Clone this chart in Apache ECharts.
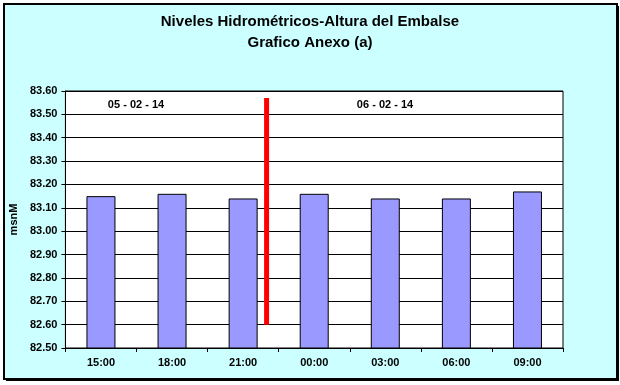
<!DOCTYPE html>
<html><head><meta charset="utf-8">
<script src="https://cdn.jsdelivr.net/npm/echarts@6/dist/echarts.min.js"></script>
<style>html,body{margin:0;padding:0;background:#fff}#c{width:620px;height:385px}</style>
</head><body><div id="c"></div>
<script>
var categories = ['15:00','18:00','21:00','00:00','03:00','06:00','09:00'];
var levels = [83.15, 83.16, 83.14, 83.16, 83.14, 83.14, 83.17];
var yTicks = [82.5, 83.6, 0.1];
var dayLabels = ['05 - 02 - 14', '06 - 02 - 14'];
var dividerX = 2.33;
var dividerY = [82.60, 83.57];

var chart = echarts.init(document.getElementById('c'));
var font = 'Liberation Sans, Arial, sans-serif';
chart.setOption({
  backgroundColor: '#ffffff',
  animation: false,
  graphic: [
    {type:'rect', z:-10, shape:{x:4,y:4,width:613,height:375}, style:{fill:'#CCFFFF', stroke:'#000', lineWidth:2}},
    {type:'rect', z:-11, shape:{x:6,y:6,width:613,height:375}, style:{fill:'#000'}},
    {type:'text', left:'center', top:14, style:{text:'Niveles Hidrométricos-Altura del Embalse', font:'bold 15px '+font, fill:'#000'}},
    {type:'text', left:'center', top:35, style:{text:'Grafico Anexo (a)', font:'bold 15px '+font, fill:'#000'}},
    {type:'text', x:136, y:105, style:{text:dayLabels[0], font:'bold 11px '+font, fill:'#000', textAlign:'center', textVerticalAlign:'middle'}},
    {type:'text', x:385, y:105, style:{text:dayLabels[1], font:'bold 11px '+font, fill:'#000', textAlign:'center', textVerticalAlign:'middle'}}
  ],
  grid: {left:61, right:57, top:91, bottom:37, show:true, backgroundColor:'#fff', borderColor:'#000', borderWidth:1},
  xAxis: [
    {type:'category', data:categories, boundaryGap:true,
     axisLine:{onZero:false, lineStyle:{color:'#000',width:1}},
     axisTick:{show:true, length:4, lineStyle:{color:'#000'}},
     axisLabel:{color:'#000', fontFamily:font, fontWeight:'bold', fontSize:11, margin:9}},
    {type:'value', min:-0.5, max:6.5, show:false, splitLine:{show:false}, axisLine:{show:false}, axisTick:{show:false}, axisLabel:{show:false}}
  ],
  yAxis: {type:'value', min:yTicks[0], max:yTicks[1], interval:yTicks[2],
    name:'msnM', nameLocation:'middle', nameGap:42, nameRotate:90,
    nameTextStyle:{color:'#000', fontFamily:font, fontWeight:'bold', fontSize:11},
    axisLine:{show:true, onZero:false, lineStyle:{color:'#000'}},
    axisTick:{show:true, length:4, lineStyle:{color:'#000'}},
    axisLabel:{color:'#000', fontFamily:font, fontWeight:'bold', fontSize:11, margin:8, formatter:function(v){return v.toFixed(2);}},
    splitLine:{show:true, lineStyle:{color:'#000', width:1}}
  },
  series: [
    {type:'bar', data:levels, barWidth:29, xAxisIndex:0,
     itemStyle:{color:'#9999FF', borderColor:'#000', borderWidth:1}},
    {type:'line', xAxisIndex:1, data:[[dividerX, dividerY[0]],[dividerX, dividerY[1]]],
     symbol:'none', lineStyle:{color:'#FF0000', width:5, cap:'butt'}, z:5}
  ]
});
</script></body></html>
